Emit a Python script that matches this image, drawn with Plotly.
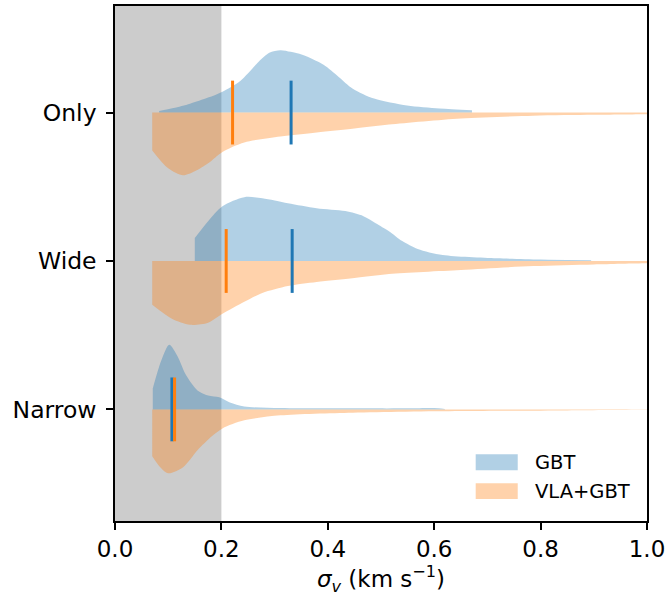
import plotly.graph_objects as go

# ---------------- data ----------------
categories = ["Only", "Wide", "Narrow"]
series_names = ["GBT", "VLA+GBT"]

# half-width density profiles (in category units) sampled along sigma_v (km/s)
gbt_only_x = [0.083, 0.11, 0.141, 0.175, 0.202, 0.236, 0.270, 0.290, 0.311, 0.33, 0.352, 0.392, 0.42, 0.447, 0.487, 0.549, 0.61, 0.671]
gbt_only_w = [0.011, 0.030, 0.060, 0.101, 0.141, 0.215, 0.342, 0.403, 0.420, 0.409, 0.389, 0.322, 0.242, 0.161, 0.094, 0.047, 0.027, 0.015]

vla_only_x = [0.07, 0.10, 0.128, 0.15, 0.175, 0.202, 0.243, 0.311, 0.379, 0.45, 0.515, 0.65, 0.786, 0.9, 1.0, 1.05]
vla_only_w = [0.255, 0.376, 0.423, 0.396, 0.342, 0.265, 0.201, 0.161, 0.134, 0.107, 0.081, 0.040, 0.021, 0.015, 0.011, 0.010]

gbt_wide_x = [0.150, 0.175, 0.202, 0.243, 0.277, 0.325, 0.379, 0.433, 0.467, 0.49, 0.515, 0.54, 0.569, 0.616, 0.718, 0.8, 0.895]
gbt_wide_w = [0.154, 0.268, 0.369, 0.430, 0.423, 0.389, 0.356, 0.336, 0.302, 0.255, 0.201, 0.134, 0.081, 0.040, 0.018, 0.010, 0.005]

vla_wide_x = [0.07, 0.107, 0.141, 0.175, 0.202, 0.243, 0.277, 0.325, 0.379, 0.45, 0.515, 0.65, 0.786, 0.9, 1.0, 1.05]
vla_wide_w = [0.295, 0.389, 0.430, 0.416, 0.356, 0.275, 0.215, 0.168, 0.141, 0.114, 0.087, 0.060, 0.034, 0.023, 0.015, 0.013]

gbt_narrow_x = [0.071, 0.087, 0.102, 0.117, 0.134, 0.155, 0.175, 0.196, 0.216, 0.243, 0.311, 0.45, 0.55, 0.6, 0.62]
gbt_narrow_w = [0.141, 0.329, 0.436, 0.362, 0.228, 0.128, 0.094, 0.081, 0.047, 0.020, 0.009, 0.007, 0.007, 0.009, 0.003]

vla_narrow_x = [0.07, 0.085, 0.1, 0.128, 0.155, 0.182, 0.202, 0.243, 0.311, 0.447, 0.65, 0.85, 1.0, 1.05]
vla_narrow_w = [0.315, 0.389, 0.430, 0.389, 0.275, 0.181, 0.128, 0.074, 0.040, 0.022, 0.011, 0.007, 0.003, 0.003]

gbt_medians = [0.331, 0.333, 0.107]
vla_medians = [0.221, 0.209, 0.112]

resolution_limit = 0.2
x_ticks = [0.0, 0.2, 0.4, 0.6, 0.8, 1.0]
x_tick_labels = ["0.0", "0.2", "0.4", "0.6", "0.8", "1.0"]

# ---------------- style ----------------
FONT = "DejaVu Sans"
BLUE = "#1f77b4"
ORANGE = "#ff7f0e"
BLUE_FILL = "rgba(31,119,180,0.35)"
ORANGE_FILL = "rgba(255,127,14,0.35)"
MED_HALF = 0.215

profiles = {
    "Only": ((gbt_only_x, gbt_only_w), (vla_only_x, vla_only_w)),
    "Wide": ((gbt_wide_x, gbt_wide_w), (vla_wide_x, vla_wide_w)),
    "Narrow": ((gbt_narrow_x, gbt_narrow_w), (vla_narrow_x, vla_narrow_w)),
}

fig = go.Figure()
n = len(categories)
for i, cat in enumerate(categories):
    y0 = n - 1 - i
    (gx, gw), (vx, vw) = profiles[cat]
    for xs, ws, sign, fillc in ((gx, gw, 1, BLUE_FILL), (vx, vw, -1, ORANGE_FILL)):
        fig.add_trace(go.Scatter(x=[xs[0], xs[-1]], y=[y0, y0], mode="lines",
                                 line=dict(width=0), showlegend=False, hoverinfo="skip"))
        fig.add_trace(go.Scatter(x=xs, y=[y0 + sign * w for w in ws], mode="lines",
                                 line=dict(width=0, shape="spline", smoothing=0.8),
                                 fill="tonexty", fillcolor=fillc,
                                 showlegend=False, hoverinfo="skip"))
for i, cat in enumerate(categories):
    y0 = n - 1 - i
    fig.add_trace(go.Scatter(x=[gbt_medians[i]] * 2, y=[y0 - MED_HALF, y0 + MED_HALF],
                             mode="lines", line=dict(color=BLUE, width=3), showlegend=False))
    fig.add_trace(go.Scatter(x=[vla_medians[i]] * 2, y=[y0 - MED_HALF, y0 + MED_HALF],
                             mode="lines", line=dict(color=ORANGE, width=3), showlegend=False))

shapes = [dict(type="rect", xref="x", yref="paper", x0=0, x1=resolution_limit, y0=0, y1=1,
               fillcolor="#cccccc", line=dict(width=0), layer="below")]
# manual legend
legend_items = [(series_names[0], BLUE_FILL, 0.1296, 0.0986),
                (series_names[1], ORANGE_FILL, 0.0735, 0.0426)]
annotations = []
for name, col, ya, yb in legend_items:
    shapes.append(dict(type="rect", xref="paper", yref="paper", x0=0.678, x1=0.757,
                       y0=yb, y1=ya, fillcolor=col, line=dict(width=0), layer="above"))
    annotations.append(dict(xref="paper", yref="paper", x=0.7865, y=(ya + yb) / 2,
                            text=name, showarrow=False, xanchor="left", yanchor="middle",
                            font=dict(family=FONT, size=19.5, color="black")))

fig.update_layout(
    width=669, height=599,
    margin=dict(l=115, r=20, t=4, b=78),
    paper_bgcolor="white", plot_bgcolor="white",
    font=dict(family=FONT, size=23, color="black"),
    shapes=shapes, annotations=annotations,
    showlegend=False,
)
fig.update_xaxes(range=[0, 1], tickvals=x_ticks, ticktext=x_tick_labels,
                 ticks="outside", ticklen=7, tickwidth=1.5, tickcolor="black",
                 showline=True, mirror=True, linecolor="black", linewidth=1.5,
                 showgrid=False, zeroline=False,
                 tickfont=dict(family=FONT, size=23),
                 title=dict(text="<i>σ</i><sub><i>v</i></sub> (km s<sup>−1</sup>)",
                            font=dict(family=FONT, size=23), standoff=6))
fig.update_yaxes(range=[-0.752, 2.718], tickvals=[n - 1 - i for i in range(n)], ticktext=categories,
                 ticks="outside", ticklen=7, tickwidth=1.5, tickcolor="black",
                 showline=True, mirror=True, linecolor="black", linewidth=1.5,
                 showgrid=False, zeroline=False, ticklabelstandoff=5,
                 tickfont=dict(family=FONT, size=23.5))

fig.write_html("out.html")
